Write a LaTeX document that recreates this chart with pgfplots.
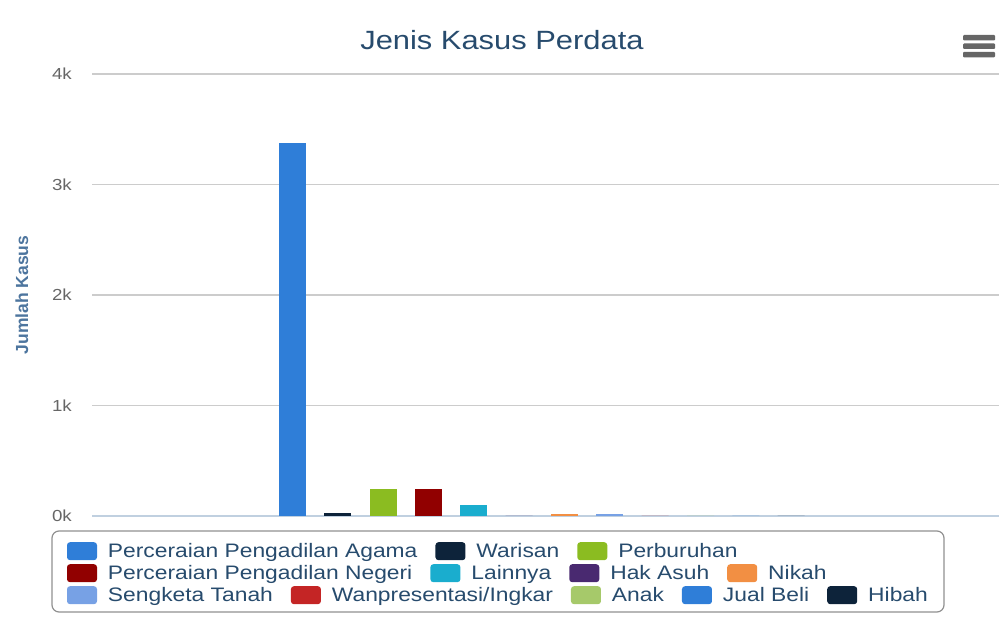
\documentclass[border=0pt]{standalone}
\usepackage{fontspec}
\setmainfont{Liberation Sans}[FakeStretch=1.17]
\newfontfamily\labelfont{Liberation Sans}
\usepackage{pgfplots}
\pgfplotsset{compat=1.18}
\definecolor{c1}{HTML}{2F7ED8}
\definecolor{c2}{HTML}{0D233A}
\definecolor{c3}{HTML}{8BBC21}
\definecolor{c4}{HTML}{910000}
\definecolor{c5}{HTML}{1AADCE}
\definecolor{c6}{HTML}{492970}
\definecolor{c7}{HTML}{F28F43}
\definecolor{c8}{HTML}{77A1E5}
\definecolor{c9}{HTML}{C42525}
\definecolor{c10}{HTML}{A6C96A}
\definecolor{titlec}{HTML}{274B6D}
\definecolor{ylab}{HTML}{4D759E}
\definecolor{tickc}{HTML}{666666}
\definecolor{gridc}{HTML}{CCCCCC}
\definecolor{xaxc}{HTML}{C0D0E0}
\definecolor{legborder}{HTML}{909090}
\definecolor{menuc}{HTML}{666666}
\pgfplotsset{
  legrow/.style={hide axis, scale only axis, width=1bp, height=1bp,
    anchor=south west, xmin=0, xmax=1, ymin=0, ymax=1,
    legend columns=-1,
    legend image code/.code={\fill[##1,draw=none,rounded corners=3bp] (0bp,-9bp) rectangle (30bp,9bp);},
    legend style={at={(0,0)}, anchor=west, draw=none, fill=none,
      inner sep=0pt, outer sep=0pt,
      font=\fontsize{19.5bp}{22bp}\selectfont, text=titlec,
      nodes={inner sep=0pt},
      /tikz/every odd column/.append style={column sep=11bp},
      /tikz/every even column/.append style={column sep=18bp}},
  }
}
\begin{document}
\begin{tikzpicture}
\useasboundingbox (0bp,0bp) rectangle (1006bp,630bp);
\begin{axis}[at={(92bp,114bp)}, anchor=south west, scale only axis,
  width=907bp, height=442bp,
  ybar=18.33bp, bar width=27bp,
  xmin=-0.992, xmax=1.008, ymin=0, ymax=4000,
  xtick=\empty, ytick={0,1000,2000,3000,4000}, yticklabels={0k,1k,2k,3k,4k},
  axis x line*=bottom, axis y line*=left,
  y axis line style={draw=none},
  x axis line style={draw=xaxc, line width=1.2bp},
  ymajorgrids, major grid style={draw=gridc, line width=1.4bp},
  ytick style={draw=none},
  yticklabel style={font=\fontsize{16bp}{18bp}\selectfont, text=tickc, inner sep=0pt, anchor=east, xshift=-20bp},
  ylabel={Jumlah Kasus},
  ylabel style={at={(axis description cs:-0.0772,0.5)}, anchor=center,
    font=\labelfont\bfseries\fontsize{17.5bp}{20bp}\selectfont, text=ylab},
  title={Jenis Kasus Perdata},
  title style={at={(axis description cs:0.452,1)}, anchor=base, yshift=18.5bp,
    font=\fontsize{26.4bp}{30bp}\selectfont, text=titlec},
]
\addplot[fill=c1, draw=none] coordinates {(0,3380)};
\addplot[fill=c2, draw=none] coordinates {(0,25)};
\addplot[fill=c3, draw=none] coordinates {(0,245)};
\addplot[fill=c4, draw=none] coordinates {(0,240)};
\addplot[fill=c5, draw=none] coordinates {(0,100)};
\addplot[fill=c6, draw=none] coordinates {(0,0)};
\addplot[fill=c7, draw=none] coordinates {(0,20)};
\addplot[fill=c8, draw=none] coordinates {(0,20)};
\addplot[fill=c9, draw=none] coordinates {(0,0)};
\addplot[fill=c10, draw=none] coordinates {(0,0)};
\addplot[fill=c1, draw=none] coordinates {(0,0)};
\addplot[fill=c2, draw=none] coordinates {(0,0)};
\end{axis}
% legend border
\draw[legborder, line width=1.2bp, rounded corners=7bp] (52bp,18bp) rectangle (944bp,99bp);
% legend rows
\begin{axis}[legrow, at={(67bp,78.8bp)}]
\addlegendimage{fill=c1}\addlegendentry{Perceraian Pengadilan Agama}
\addlegendimage{fill=c2}\addlegendentry{Warisan}
\addlegendimage{fill=c3}\addlegendentry{Perburuhan}
\end{axis}
\begin{axis}[legrow, at={(67bp,56.8bp)}]
\addlegendimage{fill=c4}\addlegendentry{Perceraian Pengadilan Negeri}
\addlegendimage{fill=c5}\addlegendentry{Lainnya}
\addlegendimage{fill=c6}\addlegendentry{Hak Asuh}
\addlegendimage{fill=c7}\addlegendentry{Nikah}
\end{axis}
\begin{axis}[legrow, at={(67bp,34.8bp)}]
\addlegendimage{fill=c8}\addlegendentry{Sengketa Tanah}
\addlegendimage{fill=c9}\addlegendentry{Wanpresentasi/Ingkar}
\addlegendimage{fill=c10}\addlegendentry{Anak}
\addlegendimage{fill=c1}\addlegendentry{Jual Beli}
\addlegendimage{fill=c2}\addlegendentry{Hibah}
\end{axis}
% menu icon
\fill[menuc, rounded corners=1bp] (963bp,589.5bp) rectangle (995bp,595bp);
\fill[menuc, rounded corners=1bp] (963bp,581bp) rectangle (995bp,586.5bp);
\fill[menuc, rounded corners=1bp] (963bp,572.7bp) rectangle (995bp,578.2bp);
\end{tikzpicture}
\end{document}
